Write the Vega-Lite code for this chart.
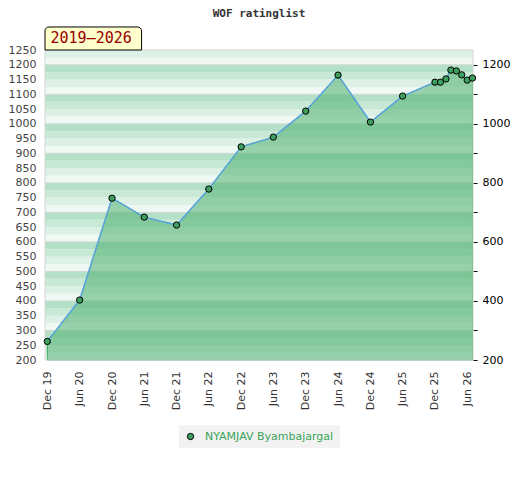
{
  "$schema": "https://vega.github.io/schema/vega-lite/v6.json",
  "autosize": "none",
  "width": 428,
  "height": 310,
  "padding": {"left": 45, "top": 50, "right": 47, "bottom": 120},
  "title": {"text": "WOF ratinglist", "frame": "group", "anchor": "middle", "offset": 7, "font": "DejaVu Sans Mono", "fontSize": 11, "fontWeight": "bold", "color": "#333333"},
  "datasets": {
    "ratings": [
      {"date": "2019-12-01T00:00:00", "rating": 263, "name": "NYAMJAV Byambajargal"},
      {"date": "2020-06-01T00:00:00", "rating": 403, "name": "NYAMJAV Byambajargal"},
      {"date": "2020-12-01T00:00:00", "rating": 748, "name": "NYAMJAV Byambajargal"},
      {"date": "2021-06-01T00:00:00", "rating": 684, "name": "NYAMJAV Byambajargal"},
      {"date": "2021-12-01T00:00:00", "rating": 657, "name": "NYAMJAV Byambajargal"},
      {"date": "2022-06-01T00:00:00", "rating": 779, "name": "NYAMJAV Byambajargal"},
      {"date": "2022-12-01T00:00:00", "rating": 922, "name": "NYAMJAV Byambajargal"},
      {"date": "2023-06-01T00:00:00", "rating": 955, "name": "NYAMJAV Byambajargal"},
      {"date": "2023-12-01T00:00:00", "rating": 1043, "name": "NYAMJAV Byambajargal"},
      {"date": "2024-06-01T00:00:00", "rating": 1165, "name": "NYAMJAV Byambajargal"},
      {"date": "2024-12-01T00:00:00", "rating": 1006, "name": "NYAMJAV Byambajargal"},
      {"date": "2025-06-01T00:00:00", "rating": 1094, "name": "NYAMJAV Byambajargal"},
      {"date": "2025-12-01T00:00:00", "rating": 1141, "name": "NYAMJAV Byambajargal"},
      {"date": "2026-01-01T00:00:00", "rating": 1141, "name": "NYAMJAV Byambajargal"},
      {"date": "2026-02-01T00:00:00", "rating": 1152, "name": "NYAMJAV Byambajargal"},
      {"date": "2026-03-01T00:00:00", "rating": 1182, "name": "NYAMJAV Byambajargal"},
      {"date": "2026-04-01T00:00:00", "rating": 1179, "name": "NYAMJAV Byambajargal"},
      {"date": "2026-05-01T00:00:00", "rating": 1166, "name": "NYAMJAV Byambajargal"},
      {"date": "2026-06-01T00:00:00", "rating": 1148, "name": "NYAMJAV Byambajargal"},
      {"date": "2026-07-01T00:00:00", "rating": 1155, "name": "NYAMJAV Byambajargal"}
    ],
    "bands": [
      {"lo": 200, "hi": 225, "k": "d"}, {"lo": 225, "hi": 250, "k": "c"}, {"lo": 250, "hi": 275, "k": "b"}, {"lo": 275, "hi": 300, "k": "a"},
      {"lo": 300, "hi": 325, "k": "d"}, {"lo": 325, "hi": 350, "k": "c"}, {"lo": 350, "hi": 375, "k": "b"}, {"lo": 375, "hi": 400, "k": "a"},
      {"lo": 400, "hi": 425, "k": "d"}, {"lo": 425, "hi": 450, "k": "c"}, {"lo": 450, "hi": 475, "k": "b"}, {"lo": 475, "hi": 500, "k": "a"},
      {"lo": 500, "hi": 525, "k": "d"}, {"lo": 525, "hi": 550, "k": "c"}, {"lo": 550, "hi": 575, "k": "b"}, {"lo": 575, "hi": 600, "k": "a"},
      {"lo": 600, "hi": 625, "k": "d"}, {"lo": 625, "hi": 650, "k": "c"}, {"lo": 650, "hi": 675, "k": "b"}, {"lo": 675, "hi": 700, "k": "a"},
      {"lo": 700, "hi": 725, "k": "d"}, {"lo": 725, "hi": 750, "k": "c"}, {"lo": 750, "hi": 775, "k": "b"}, {"lo": 775, "hi": 800, "k": "a"},
      {"lo": 800, "hi": 825, "k": "d"}, {"lo": 825, "hi": 850, "k": "c"}, {"lo": 850, "hi": 875, "k": "b"}, {"lo": 875, "hi": 900, "k": "a"},
      {"lo": 900, "hi": 925, "k": "d"}, {"lo": 925, "hi": 950, "k": "c"}, {"lo": 950, "hi": 975, "k": "b"}, {"lo": 975, "hi": 1000, "k": "a"},
      {"lo": 1000, "hi": 1025, "k": "d"}, {"lo": 1025, "hi": 1050, "k": "c"}, {"lo": 1050, "hi": 1075, "k": "b"}, {"lo": 1075, "hi": 1100, "k": "a"},
      {"lo": 1100, "hi": 1125, "k": "d"}, {"lo": 1125, "hi": 1150, "k": "c"}, {"lo": 1150, "hi": 1175, "k": "b"}, {"lo": 1175, "hi": 1200, "k": "a"},
      {"lo": 1200, "hi": 1225, "k": "d"}, {"lo": 1225, "hi": 1250, "k": "c"}
    ],
    "period": [{"label": "2019–2026"}]
  },
  "data": {"name": "ratings"},
  "layer": [
    {
      "data": {"name": "bands"},
      "mark": {"type": "rect"},
      "encoding": {
        "y": {"field": "lo", "type": "quantitative", "title": null,
          "scale": {"domain": [200, 1250], "zero": false, "nice": false},
          "axis": {"orient": "left", "values": [200,250,300,350,400,450,500,550,600,650,700,750,800,850,900,950,1000,1050,1100,1150,1200,1250], "format": "d", "ticks": false, "domain": false, "grid": false, "labelPadding": 9, "labelColor": "#444444", "labelFontSize": 11}},
        "y2": {"field": "hi"},
        "fill": {"field": "k", "type": "nominal", "legend": null,
          "scale": {"domain": ["a", "b", "c", "d"], "range": ["#b3e0c6", "#c7e9d5", "#dcf0e5", "#eff8f3"]}}
      }
    },
    {
      "data": {"name": "bands"},
      "transform": [{"filter": {"field": "k", "equal": "a"}}],
      "mark": {"type": "rule", "color": "#d0d8d3", "strokeWidth": 1},
      "encoding": {
        "y": {"field": "hi", "type": "quantitative", "title": null,
          "scale": {"domain": [200, 1250], "zero": false, "nice": false},
          "axis": {"orient": "right", "values": [200,300,400,500,600,700,800,900,1000,1100,1200], "format": "d", "labelExpr": "datum.value % 200 === 0 ? datum.label : ''", "ticks": true, "tickSize": 4, "tickColor": "#000000", "domain": false, "grid": false, "labelPadding": 5, "labelColor": "#000000", "labelFontSize": 11}}
      }
    },
    {
      "mark": {"type": "area", "fill": "#52b272", "fillOpacity": 0.56, "stroke": "#34a857", "strokeWidth": 1},
      "encoding": {
        "x": {"field": "date", "type": "temporal", "title": null,
          "scale": {"domain": [{"year": 2019, "month": 11, "date": 18}, {"year": 2026, "month": 7, "date": 4}]},
          "axis": {"values": [
            {"year": 2019, "month": 12, "date": 1}, {"year": 2020, "month": 6, "date": 1},
            {"year": 2020, "month": 12, "date": 1}, {"year": 2021, "month": 6, "date": 1},
            {"year": 2021, "month": 12, "date": 1}, {"year": 2022, "month": 6, "date": 1},
            {"year": 2022, "month": 12, "date": 1}, {"year": 2023, "month": 6, "date": 1},
            {"year": 2023, "month": 12, "date": 1}, {"year": 2024, "month": 6, "date": 1},
            {"year": 2024, "month": 12, "date": 1}, {"year": 2025, "month": 6, "date": 1},
            {"year": 2025, "month": 12, "date": 1}, {"year": 2026, "month": 6, "date": 1}],
            "format": "%b %y", "labelAngle": 270, "ticks": false, "domain": false, "grid": false, "labelPadding": 11, "labelColor": "#333333", "labelFontSize": 11, "labelOverlap": false, "labelSeparation": 0}},
        "y": {"field": "rating", "type": "quantitative", "title": null, "axis": null,
          "scale": {"domain": [200, 1250], "zero": false, "nice": false}},
        "y2": {"datum": 200}
      }
    },
    {
      "mark": {"type": "line", "color": "#5aa5dc", "strokeWidth": 1.5},
      "encoding": {
        "x": {"field": "date", "type": "temporal", "title": null, "axis": null},
        "y": {"field": "rating", "type": "quantitative", "title": null, "axis": null,
          "scale": {"domain": [200, 1250], "zero": false, "nice": false}}
      }
    },
    {
      "data": {"values": [{}]},
      "mark": {"type": "rect", "fillOpacity": 0, "stroke": "#d6d6d6", "strokeWidth": 1},
      "encoding": {
        "y": {"datum": 200, "title": null, "axis": null, "scale": {"domain": [200, 1250], "zero": false, "nice": false}},
        "y2": {"datum": 1250}
      }
    },
    {
      "mark": {"type": "point", "filled": true, "size": 40, "stroke": "#000000", "strokeWidth": 1, "opacity": 1},
      "encoding": {
        "x": {"field": "date", "type": "temporal", "title": null, "axis": null},
        "y": {"field": "rating", "type": "quantitative", "title": null, "axis": null,
          "scale": {"domain": [200, 1250], "zero": false, "nice": false}},
        "color": {"field": "name", "type": "nominal",
          "scale": {"domain": ["NYAMJAV Byambajargal"], "range": ["#3f9f5f"]},
          "legend": {"orient": "bottom", "title": null}}
      }
    },
    {
      "data": {"name": "period"},
      "mark": {"type": "rect", "fill": "#ffffcc", "stroke": "#000000", "strokeWidth": 1, "cornerRadiusTopLeft": 4, "cornerRadiusTopRight": 4},
      "encoding": {
        "x": {"datum": {"year": 2019, "month": 11, "date": 18}, "type": "temporal", "title": null, "axis": null},
        "x2": {"datum": {"year": 2021, "month": 5, "date": 17}},
        "y": {"datum": 1328, "type": "quantitative", "title": null, "axis": null, "scale": {"domain": [200, 1250], "zero": false, "nice": false}},
        "y2": {"datum": 1250}
      }
    },
    {
      "data": {"name": "period"},
      "mark": {"type": "text", "font": "DejaVu Sans Mono", "fontSize": 15, "color": "#990000", "align": "center", "baseline": "middle"},
      "encoding": {
        "x": {"datum": {"year": 2020, "month": 8, "date": 5}, "type": "temporal", "title": null, "axis": null},
        "y": {"datum": 1289, "type": "quantitative", "title": null, "axis": null, "scale": {"domain": [200, 1250], "zero": false, "nice": false}},
        "text": {"field": "label"}
      }
    }
  ],
  "resolve": {"axis": {"x": "independent", "y": "independent"}},
  "config": {
    "font": "DejaVu Sans",
    "view": {"stroke": null},
    "axisX": {"labelOverlap": false, "labelAngle": 270, "labelFlush": false},
    "legend": {
      "fillColor": "#f2f2f2",
      "padding": 6,
      "labelColor": "#3aa35a",
      "labelFont": "DejaVu Sans",
      "labelFontSize": 11,
      "labelOffset": 9,
      "symbolStrokeColor": "#000000",
      "symbolStrokeWidth": 1,
      "symbolSize": 40,
      "offset": 15,
      "layout": {"bottom": {"anchor": "middle"}}
    }
  }
}
